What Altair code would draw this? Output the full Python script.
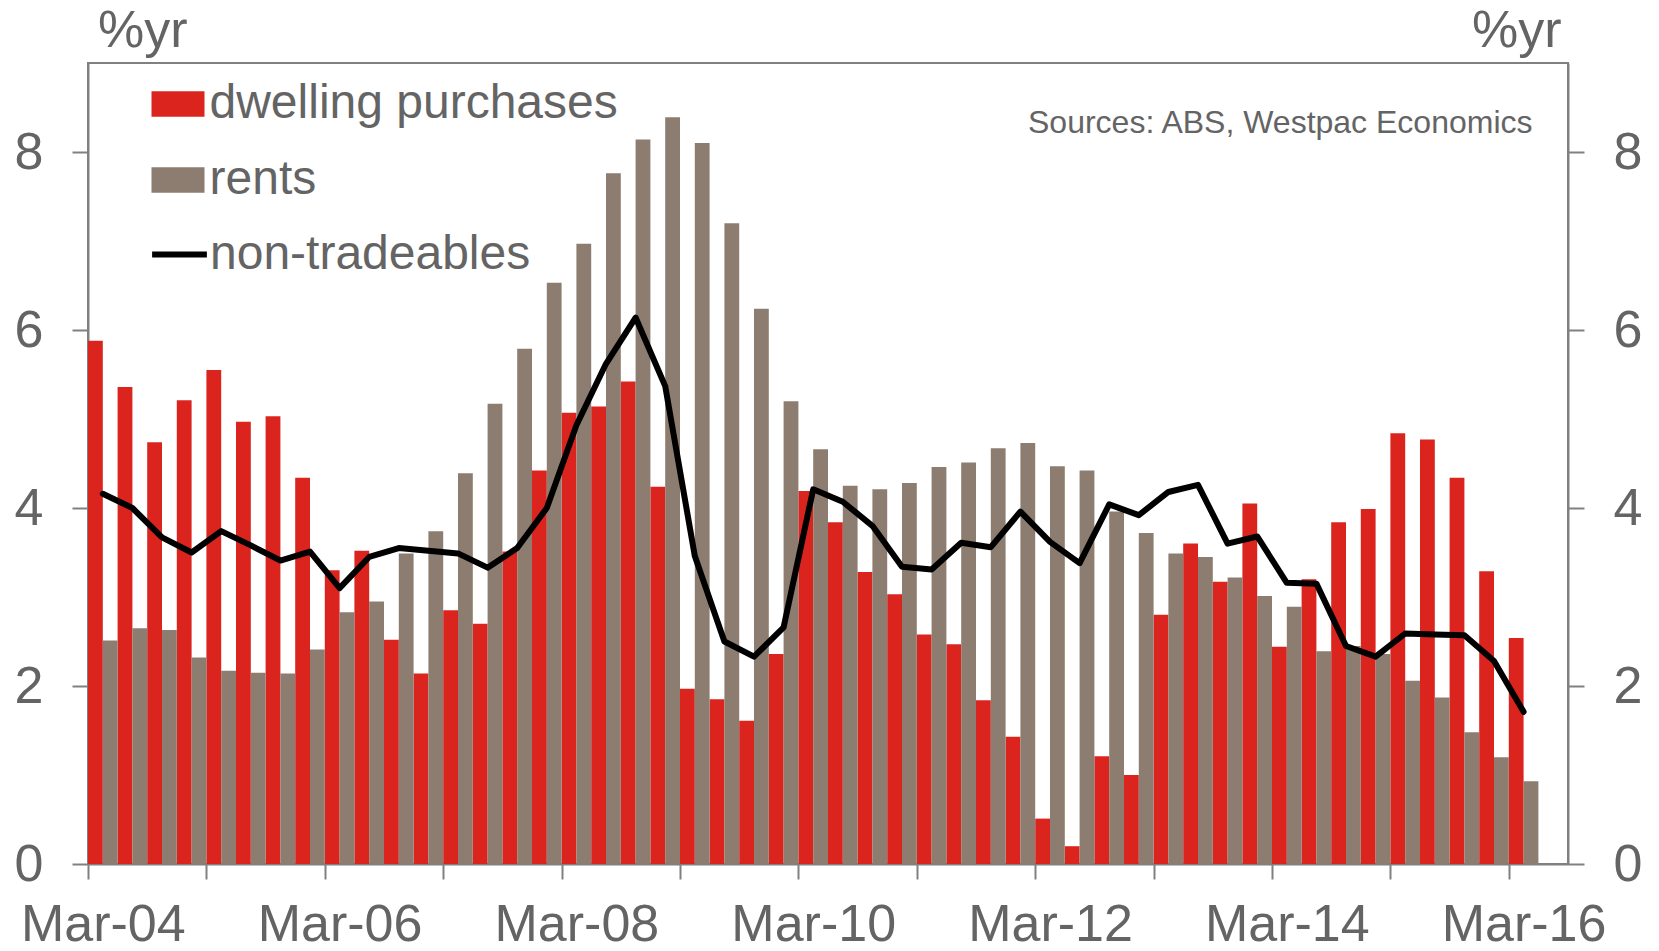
import altair as alt
import pandas as pd

# ---- data (quarterly, Mar-04 .. Mar-16), %yr ----
x_labels = ["Mar-04", "Mar-06", "Mar-08", "Mar-10", "Mar-12", "Mar-14", "Mar-16"]

dwelling = [5.88, 5.36, 4.74, 5.21, 5.55, 4.97, 5.03, 4.34, 3.30, 3.52,
            2.52, 2.14, 2.85, 2.70, 3.51, 4.42, 5.07, 5.14, 5.42, 4.24,
            1.97, 1.85, 1.61, 2.36, 4.19, 3.84, 3.28, 3.03, 2.58, 2.47,
            1.84, 1.43, 0.51, 0.20, 1.21, 1.00, 2.80, 3.60, 3.17, 4.05,
            2.44, 3.20, 3.84, 3.99, 4.84, 4.77, 4.34, 3.29, 2.54]

rents = [2.51, 2.65, 2.63, 2.32, 2.17, 2.15, 2.14, 2.41, 2.83, 2.95,
         3.49, 3.74, 4.39, 5.17, 5.79, 6.53, 6.97, 7.76, 8.14, 8.39,
         8.10, 7.20, 6.24, 5.20, 4.66, 4.25, 4.21, 4.28, 4.46, 4.51,
         4.67, 4.73, 4.47, 4.42, 3.96, 3.72, 3.49, 3.45, 3.22, 3.01,
         2.89, 2.39, 2.45, 2.36, 2.06, 1.87, 1.48, 1.20, 0.93]

nontradeables = [4.16, 4.00, 3.67, 3.50, 3.74, 3.58, 3.41, 3.51, 3.10, 3.45,
                 3.55, 3.52, 3.49, 3.33, 3.55, 4.00, 4.93, 5.62, 6.14, 5.37,
                 3.46, 2.50, 2.33, 2.66, 4.21, 4.07, 3.80, 3.34, 3.31, 3.61,
                 3.56, 3.96, 3.62, 3.38, 4.04, 3.92, 4.18, 4.26, 3.60, 3.68,
                 3.16, 3.15, 2.45, 2.33, 2.59, 2.58, 2.57, 2.28, 1.71]

series_names = ["dwelling purchases", "rents", "non-tradeables"]
series_colors = ["#dc241f", "#8c7d70", "#000000"]
source_note = "Sources: ABS, Westpac Economics"
y_title = "%yr"

n = len(dwelling)
bars_df = pd.DataFrame({
    "q": list(range(n)) * 2,
    "slot": [0] * n + [1] * n,
    "series": [series_names[0]] * n + [series_names[1]] * n,
    "value": dwelling + rents,
})
line_df = pd.DataFrame({
    "q": list(range(n)),
    "series": [series_names[2]] * n,
    "value": nontradeables,
})

# ---- style ----
FONT = "Liberation Sans"
TXT = "#646464"
LINE = "#808080"
W, H = 1480, 801
slot_px = W / (n + 1)

x_scale = alt.Scale(domain=[0, n + 1], nice=False, zero=False)
y_scale = alt.Scale(domain=[0, 9], nice=False)

x_axis = alt.Axis(
    values=list(range(0, n, 4)),
    labelExpr=f"datum.value % 8 == 0 ? {x_labels}[datum.value / 8] : ''",
    labelOffset=slot_px / 2, tickSize=15, tickWidth=2, tickColor=LINE,
    domainColor=LINE, domainWidth=2, labelFontSize=52, labelFont=FONT,
    labelColor=TXT, labelPadding=20, grid=False, title=None,
    labelFlush=False, labelOverlap=False, labelBaseline="top", labelAlign="center",
)

def y_axis(orient, title_x, title_align):
    return alt.Axis(
        values=[0, 2, 4, 6, 8], orient=orient, tickSize=16, tickWidth=2,
        tickColor=LINE, domainColor=LINE, domainWidth=2, grid=False,
        labelFontSize=52, labelFont=FONT, labelColor=TXT, labelPadding=29,
        title=y_title, titleAngle=0, titleX=title_x, titleY=-16.7,
        titleAlign=title_align, titleBaseline="alphabetic", titleFontSize=52,
        titleFontWeight="normal", titleColor=TXT, titleFont=FONT,
    )

bars = alt.Chart(bars_df).transform_calculate(
    x0="datum.q + 0.5 * datum.slot",
    x1="datum.q + 0.5 * datum.slot + 0.5",
).mark_rect().encode(
    x=alt.X("x0:Q", scale=x_scale, axis=x_axis),
    x2="x1:Q",
    y=alt.Y("value:Q", scale=y_scale, axis=y_axis("left", 9.5, "left")),
    y2=alt.datum(0),
    color=alt.Color(
        "series:N",
        scale=alt.Scale(domain=series_names[:2], range=series_colors[:2]),
        legend=alt.Legend(
            title=None, orient="none", legendX=63.5, legendY=14.5,
            symbolType="M-1,-0.48H1V0.48H-1Z", symbolSize=2809,
            symbolStrokeWidth=0, symbolOpacity=1, labelFontSize=48, labelFont=FONT,
            labelColor=TXT, labelOffset=5, labelLimit=1000, rowPadding=25,
            padding=0,
        ),
    ),
)

line = alt.Chart(line_df).transform_calculate(
    xc="datum.q + 0.5"
).mark_line(strokeWidth=6, strokeJoin="round", strokeCap="round").encode(
    x=alt.X("xc:Q", scale=x_scale, axis=x_axis),
    y=alt.Y("value:Q", scale=y_scale, axis=y_axis("right", -7, "right")),
    stroke=alt.Stroke(
        "series:N",
        scale=alt.Scale(domain=series_names[2:], range=series_colors[2:]),
        legend=alt.Legend(
            title=None, orient="none", legendX=61, legendY=161,
            symbolType="stroke", symbolSize=3000, symbolStrokeWidth=6,
            labelFontSize=48, labelFont=FONT, labelColor=TXT, labelOffset=0,
            labelLimit=1000, padding=0,
        ),
    ),
)

note = alt.Chart(pd.DataFrame({"note": [source_note]})).mark_text(
    align="right", baseline="alphabetic", fontSize=32, font=FONT, color=TXT
).encode(
    text="note:N",
    x=alt.value(1444.5),
    y=alt.value(69.7),
)

chart = alt.layer(bars, line, note).resolve_scale(
    y="shared"
).resolve_axis(
    y="independent"
).properties(
    width=W, height=H,
    autosize=alt.AutoSizeParams(type="none"),
    padding={"left": 80, "top": 55, "right": 80, "bottom": 84},
).configure_view(
    stroke=LINE, strokeWidth=2
)

chart.save("out.html", embed_options={"renderer": "svg", "actions": False})
